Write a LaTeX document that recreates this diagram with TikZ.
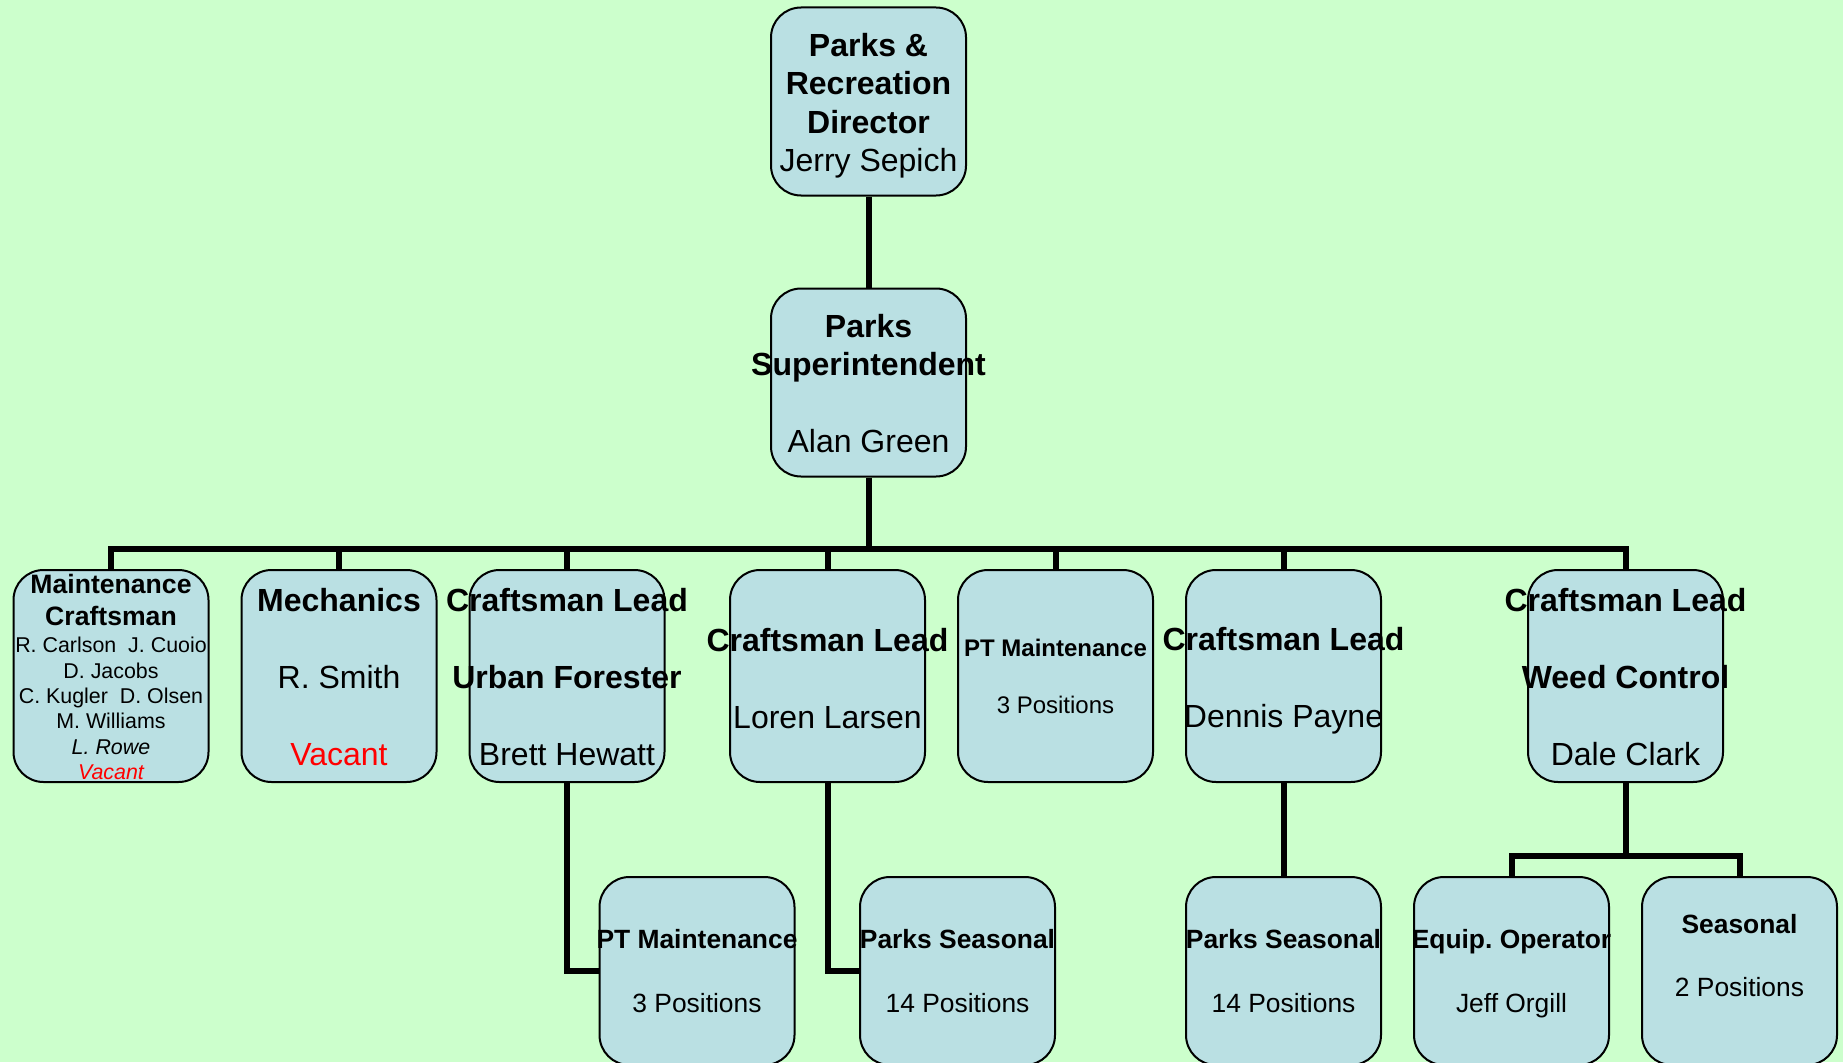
\documentclass[tikz,border=0pt]{standalone}
\usepackage{fontspec}
\setmainfont{Liberation Sans}
\definecolor{bg}{HTML}{CCFFCC}
\definecolor{boxfill}{HTML}{BAE0E3}
\begin{document}
\begin{tikzpicture}[x=1pt,y=-1pt,
  box/.style={draw=black, line width=2pt, fill=boxfill, rounded corners=30pt,
    minimum width=195pt, minimum height=188pt, inner sep=0pt},
  tallbox/.style={box, minimum height=212pt},
  txt/.style={align=center, inner sep=0pt, font=\fontsize{32}{38.5}\selectfont},
  smalltxt/.style={txt, font=\fontsize{24}{28.8}\selectfont},
  lowtxt/.style={txt, font=\fontsize{26.4}{31.8}\selectfont},
  conn/.style={line width=6pt, draw=black}]
\fill[bg] (0,0) rectangle (1843,1062);
\useasboundingbox (0,0) rectangle (1843,1062);
\clip (0,0) rectangle (1843,1062);
% boxes
\node[box] (dir) at (868.5,101.5) {};
\node[box] (sup) at (868.5,382.5) {};
\node[tallbox] (maint) at (111,676) {};
\node[tallbox] (mech) at (339,676) {};
\node[tallbox] (urban) at (567,676) {};
\node[tallbox] (loren) at (827.5,676) {};
\node[tallbox] (pt) at (1055.5,676) {};
\node[tallbox] (dennis) at (1283.5,676) {};
\node[tallbox] (dale) at (1625.5,676) {};
\node[box] (pt2) at (697,971) {};
\node[box] (ps1) at (957.5,971) {};
\node[box] (ps2) at (1283.5,971) {};
\node[box] (equip) at (1511.5,971) {};
\node[box] (seas) at (1739.5,971) {};
% connectors
\coordinate (bus) at (868.5,549);
\coordinate (bracket) at (1625.5,856);
\draw[conn] (dir.south) -- (sup.north);
\draw[conn] (sup.south) -- (bus);
\foreach \n in {maint,mech,urban,loren,pt,dennis,dale} \draw[conn] (bus) -| (\n.north);
\draw[conn] (urban.south) |- (pt2.west);
\draw[conn] (loren.south) |- (ps1.west);
\draw[conn] (dennis.south) -- (ps2.north);
\draw[conn] (dale.south) -- (bracket);
\draw[conn] (bracket) -| (equip.north);
\draw[conn] (bracket) -| (seas.north);
% texts
\node[txt] (dirT) at (868.5,105.5) {{\bfseries Parks \&}\\{\bfseries Recreation}\\{\bfseries Director}\\Jerry Sepich};
\node[txt] (supT) at (868.5,383.5) {{\bfseries Parks}\\{\bfseries Superintendent}\\[38.5pt]Alan Green};
\node[txt, font=\fontsize{26.6}{31.7}\selectfont\bfseries] (maintT) at (111,600) {Maintenance\\Craftsman};
\node[txt, font=\fontsize{21.4}{25.4}\selectfont] (maintN) at (111,708.5) {R. Carlson\ \ J. Cuoio\\D. Jacobs\\C. Kugler\ \ D. Olsen\\M. Williams\\{\itshape L. Rowe}\\{\itshape\color{red}Vacant}};
\node[txt] (mechT) at (339,677) {{\bfseries Mechanics}\\[38.5pt]R. Smith\\[38.5pt]{\color{red}Vacant}};
\node[txt] (urbanT) at (567,677) {{\bfseries Craftsman Lead}\\[38.5pt]{\bfseries Urban Forester}\\[38.5pt]Brett Hewatt};
\node[txt] (lorenT) at (827.5,678.5) {{\bfseries Craftsman Lead}\\[38.5pt]Loren Larsen};
\node[smalltxt] (ptT) at (1055.5,676.5) {{\bfseries PT Maintenance}\\[28.8pt]3 Positions};
\node[txt] (dennisT) at (1283.5,680.5) {{\bfseries Craftsman Lead}\\[38.5pt]Dennis Payne};
\node[txt] (daleT) at (1625.5,677) {{\bfseries Craftsman Lead}\\[38.5pt]{\bfseries Weed Control}\\[38.5pt]Dale Clark};
\node[lowtxt] (pt2T) at (697,971) {{\bfseries PT Maintenance}\\[31.8pt]3 Positions};
\node[lowtxt] (ps1T) at (957.5,971) {{\bfseries Parks Seasonal}\\[31.8pt]14 Positions};
\node[lowtxt] (ps2T) at (1283.5,971) {{\bfseries Parks Seasonal}\\[31.8pt]14 Positions};
\node[lowtxt] (equipT) at (1511.5,973.5) {{\bfseries Equip.\ Operator}\\[31.8pt]Jeff Orgill};
\node[lowtxt] (seasT) at (1739.5,955.5) {{\bfseries Seasonal}\\[31.8pt]2 Positions};
\end{tikzpicture}
\end{document}
